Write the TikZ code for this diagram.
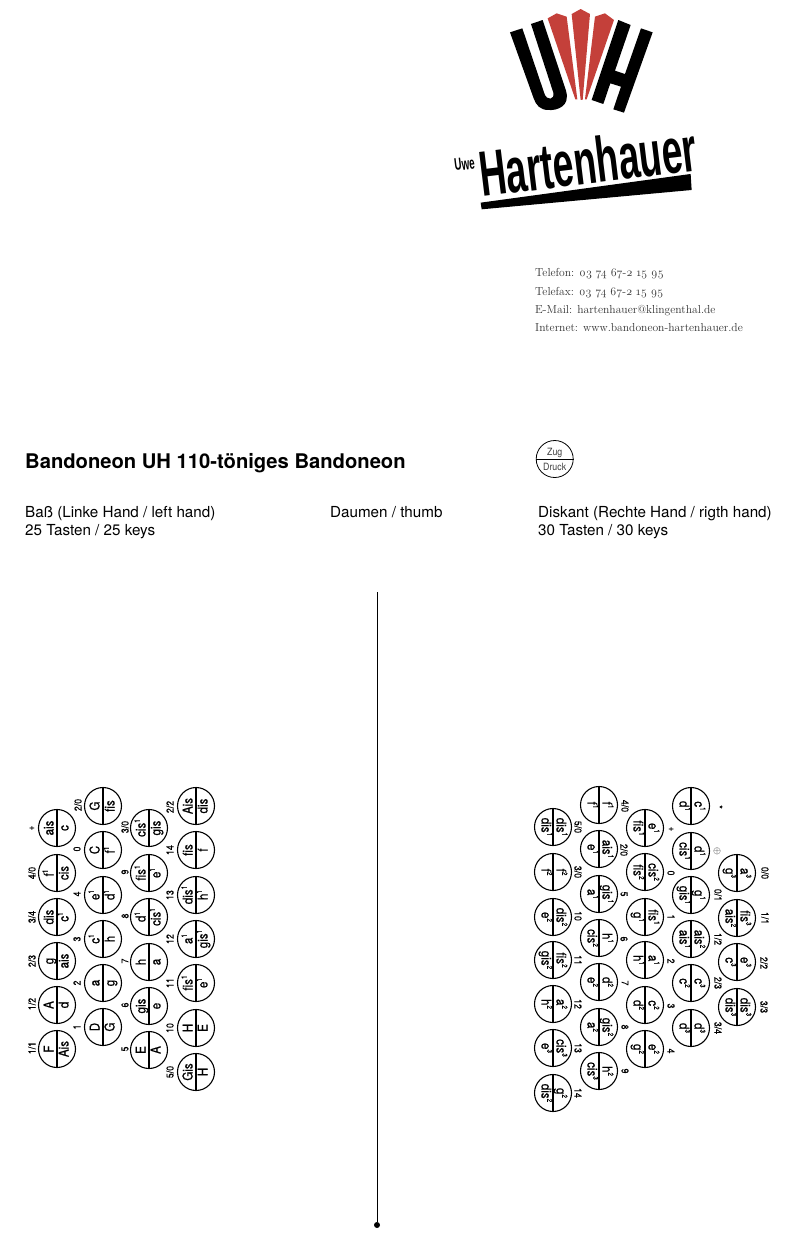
\documentclass[tikz,border=0pt]{standalone}
\usepackage{fontspec}
\setmainfont{TeX Gyre Heros}
\newfontfamily\keyfont[FakeStretch=0.86,FakeBold=0.6]{TeX Gyre Heros}
\newfontfamily\tinyfont[FakeStretch=0.88,FakeBold=0.3]{TeX Gyre Heros}
\newfontfamily\legendfont[FakeStretch=0.88]{TeX Gyre Heros}
\newfontfamily\logofont[FakeStretch=0.58]{Liberation Sans}
\newfontfamily\addrfont[Numbers=OldStyle]{Latin Modern Roman}
\newcommand{\hochzahl}[1]{\raisebox{0.42em}{\fontsize{7.5}{8}\selectfont #1}}
\newcommand{\ei}{\hochzahl{1}}
\newcommand{\zw}{\hochzahl{2}}
\newcommand{\dr}{\hochzahl{3}}
\definecolor{logored}{HTML}{C4403A}
\begin{document}
\begin{tikzpicture}[x=1pt, y=-1pt,
    tastekey/.style={circle, draw, line width=1.1pt, minimum size=37pt, inner sep=0pt},
    tonetext/.style={font=\keyfont\fontsize{13.5}{14}\selectfont, inner sep=0pt, anchor=base},
    fingernum/.style={font=\tinyfont\fontsize{10}{11}\selectfont, inner sep=0pt},
    heading/.style={font=\fontsize{15.2}{17}\selectfont, inner sep=0pt, anchor=base west},
    addrline/.style={font=\addrfont\fontsize{11.6}{14}\selectfont, inner sep=0pt, anchor=base west, text=black!80},
    legendtext/.style={font=\legendfont\fontsize{10}{11}\selectfont, inner sep=0pt, anchor=base, text=black!75},
    splitline/.style={line width=1.1pt},
    axisline/.style={line width=0.5pt}
]
\useasboundingbox (0,0) rectangle (794,1240);

% Logo
\begin{scope}[shift={(440,0)}, x=0.3333pt, y=-0.3333pt]
\fill (210,97) -- (247,85) -- (313,280) .. controls (320,303) and (345,300) .. (340,278) -- (273,72) -- (308,60) -- (378,272) .. controls (392,320) and (350,332) .. (325,330) .. controls (300,330) and (288,315) .. (281,295) -- cycle;
\fill[logored] (323,55) -- (350,40) -- (380,50) -- (412,298) -- (406,298) -- cycle;
\fill[logored] (395,42) -- (422,27) -- (450,42) -- (428,300) -- (422,300) -- cycle;
\fill[logored] (465,50) -- (495,40) -- (522,60) -- (440,298) -- (435,298) -- cycle;
\fill (535,60) -- (572,75) -- (525,212) -- (555,222) -- (603,85) -- (638,97) -- (552,338) -- (520,328) -- (543,260) -- (511,250) -- (490,312) -- (455,300) -- cycle;
\fill (122,608) -- (752,522) -- (755,570) -- (125,628) -- cycle;
\end{scope}
\node[font=\logofont\bfseries\fontsize{64}{64}\selectfont, inner sep=0pt, anchor=base west, rotate=7] (logoname) at (482,197) {Hartenhauer};
\node[font=\logofont\bfseries\fontsize{17}{17}\selectfont, inner sep=0pt, anchor=base west, rotate=7] (logouwe) at (455,171) {Uwe};

% Address
\node[addrline] (phone) at (535,276) {Telefon: 03 74 67-2 15 95};
\node[addrline] (fax) at (535,295) {Telefax: 03 74 67-2 15 95};
\node[addrline] (mail) at (535,313) {E-Mail: hartenhauer@klingenthal.de};
\node[addrline] (web) at (535,331) {Internet: www.bandoneon-hartenhauer.de};

% Headings
\node[font=\bfseries\fontsize{20.2}{22}\selectfont, inner sep=0pt, anchor=base west] (title) at (25,468) {Bandoneon UH 110-töniges Bandoneon};
\node[heading] (bass) at (25,517) {Baß (Linke Hand / left hand)};
\node[heading] (basscount) at (25,535) {25 Tasten / 25 keys};
\node[heading] (thumb) at (330,517) {Daumen / thumb};
\node[heading] (descant) at (538,517) {Diskant (Rechte Hand / rigth hand)};
\node[heading] (descantcount) at (538,535) {30 Tasten / 30 keys};

% Legend
\node[circle, draw, line width=0.8pt, minimum size=37pt, inner sep=0pt] (legend) at (554.7,459) {};
\draw[line width=0.8pt] (legend.west) -- (legend.east);
\node[legendtext] (zug) at (554.7,455) {Zug};
\node[legendtext] (druck) at (554.7,470) {Druck};

% Middle line
\node[circle, fill, inner sep=0pt, minimum size=6pt] (axisend) at (377,1225) {};
\coordinate (axistop) at (377,592);
\draw[axisline] (axistop) -- (axisend);

% Left hand keys
\foreach \x/\y/\a/\b [count=\i] in {
    57/828/ais/c, 57/873/f\ei/cis, 57/917/dis/c\ei, 57/961/g/ais, 57/1005/A/d, 57/1049/F/Ais,
    103/806/G/fis, 103/850/C/f\ei, 103/895/e\ei/d\ei, 103/939/c\ei/h, 103/983/a/g, 103/1027/D/G,
    149/828/cis\ei/gis, 149/873/fis\ei/e\ei, 149/917/d\ei/cis\ei, 149/962/h/a, 149/1006/gis/e, 149/1050/E/A,
    196/806/Ais/dis, 196/850/fis/f, 196/895/dis\ei/h\ei, 196/939/a\ei/gis\ei, 196/983/fis\ei/e\ei, 196/1028/H/E, 196/1072/Gis/H} {
  \node[tastekey] (lkey\i) at (\x,\y) {};
  \draw[splitline] (lkey\i.north) -- (lkey\i.south);
  \node[tonetext, rotate=90] at ({\x-3.5},\y) {\a};
  \node[tonetext, rotate=90] at ({\x+11.5},\y) {\b};
}

% Left hand numbers
\foreach \x/\y/\t [count=\i] in {
    32/828/+, 32/873/{4/0}, 32/917/{3/4}, 32/961/{2/3}, 32/1004/{1/2}, 32/1048/{1/1},
    78/805/{2/0}, 77/849/0, 77/894/4, 77/939/3, 77/983/2, 77/1027/1,
    125/827/{3/0}, 125/872/9, 125/916/8, 125/961/7, 125/1005/6, 125/1049/5,
    170/807/{2/2}, 170/850/14, 170/895/13, 170/939/12, 170/983/11, 170/1028/10, 170/1072/{5/0}} {
  \node[fingernum, rotate=90] (lnum\i) at (\x,\y) {\t};
}

% Right hand keys
\foreach \x/\y/\a/\b [count=\i] in {
    553/827/dis\ei/dis\ei, 553/872/f\zw/f\zw, 553/917/e\zw/dis\zw, 553/960/gis\zw/fis\zw, 553/1004/h\zw/a\zw, 553/1048/e\dr/cis\dr, 553/1093/dis\zw/g\zw,
    599/805/f\ei/f\ei, 599/849/e\ei/ais\ei, 599/894/a\ei/gis\ei, 599/938/cis\zw/h\ei, 599/982/e\zw/d\zw, 599/1027/a\zw/gis\zw, 599/1071/cis\dr/h\zw,
    645/828/fis\ei/e\ei, 645/872/fis\zw/cis\zw, 645/917/g\ei/fis\ei, 645/960/h\ei/a\ei, 645/1005/d\zw/c\zw, 645/1049/g\zw/e\zw,
    691/806/d\ei/c\ei, 691/851/cis\ei/d\ei, 691/895/gis\ei/g\ei, 691/939/ais\ei/ais\zw, 691/983/c\zw/c\dr, 691/1028/d\dr/d\dr,
    737/873/g\dr/a\dr, 737/918/ais\zw/fis\dr, 737/962/c\dr/e\dr, 737/1007/dis\dr/dis\dr} {
  \node[tastekey] (rkey\i) at (\x,\y) {};
  \draw[splitline] (rkey\i.north) -- (rkey\i.south);
  \node[tonetext, rotate=-90] at ({\x-11.5},\y) {\a};
  \node[tonetext, rotate=-90] at ({\x+3.5},\y) {\b};
}

% Right hand numbers
\foreach \x/\y/\t [count=\i] in {
    578/827/{5/0}, 578/872/{3/0}, 578/916/10, 578/960/11, 578/1004/12, 578/1048/13, 578/1093/14,
    625/806/{4/0}, 624/850/{2/0}, 624/894/5, 624/939/6, 625/983/7, 625/1027/8, 625/1071/9,
    671/829/+, 671/873/0, 671/917/1, 671/961/2, 671/1006/3, 671/1051/4,
    719/807/*, 717/851/$\oplus$, 718/895/{0/1}, 718/939/{1/2}, 718/983/{2/3}, 718/1028/{3/4},
    765/873/{0/0}, 765/918/{1/1}, 764/963/{2/2}, 764/1007/{3/3}} {
  \node[fingernum, rotate=-90] (rnum\i) at (\x,\y) {\t};
}

\end{tikzpicture}
\end{document}
